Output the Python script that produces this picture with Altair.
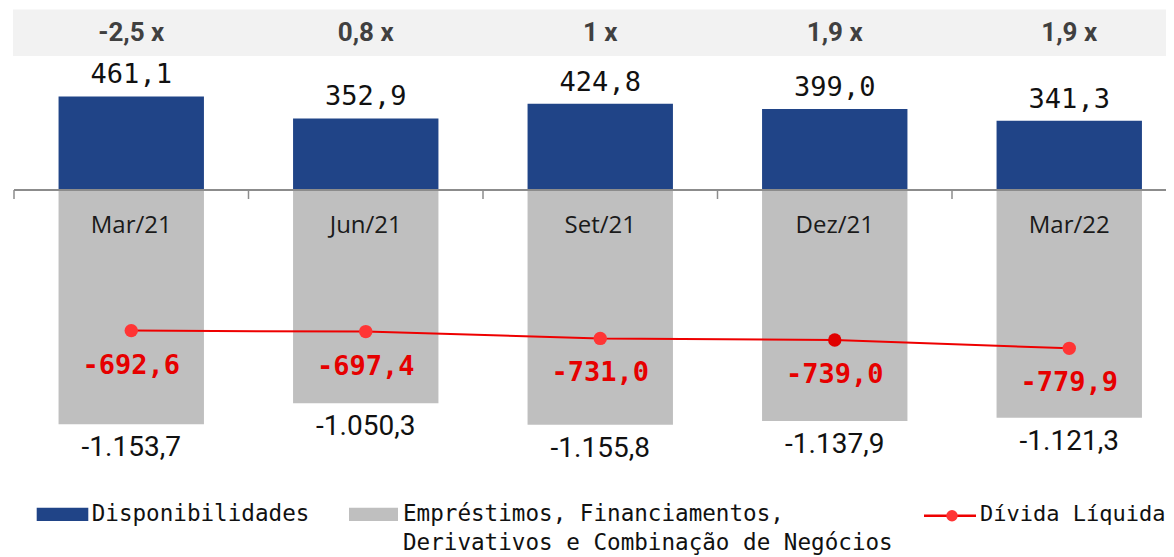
import altair as alt
import pandas as pd

# ---- data ----
categories = ["Mar/21", "Jun/21", "Set/21", "Dez/21", "Mar/22"]
disponibilidades = [461.1, 352.9, 424.8, 399.0, 341.3]
emprestimos = [-1153.7, -1050.3, -1155.8, -1137.9, -1121.3]
divida_liquida = [-692.6, -697.4, -731.0, -739.0, -779.9]
multiplos = ["-2,5 x", "0,8 x", "1 x", "1,9 x", "1,9 x"]
series_names = [
    "Disponibilidades",
    "Empréstimos, Financiamentos,\nDerivativos e Combinação de Negócios",
    "Dívida Líquida",
]


def fmt_br(v):
    s = f"{v:,.1f}"
    return s.replace(",", "X").replace(".", ",").replace("X", ".")


df = pd.DataFrame({
    "cat": categories,
    "disp": disponibilidades,
    "emp": emprestimos,
    "div": divida_liquida,
    "mult": multiplos,
    "zero": [0.0] * len(categories),
    "disp_lbl": [fmt_br(v) for v in disponibilidades],
    "emp_lbl": [fmt_br(v) for v in emprestimos],
    "div_lbl": [fmt_br(v) for v in divida_liquida],
})

W, H = 1152, 549
BLUE = "#204487"
GRAY = "#bfbfbf"
RED = "#ee0000"
MONO = "DejaVu Sans Mono"

# the last category band runs past the right edge, as in the reference
xscale = alt.Scale(domain=categories, range=[0, 1172.5], paddingInner=0, paddingOuter=0)
yscale = alt.Scale(domain=[-1808, 897], nice=False, zero=False)

xenc = alt.X("cat:N", scale=xscale, axis=None, sort=categories)
base = alt.Chart(df)

top_band = alt.Chart(pd.DataFrame({"k": [0]})).mark_rect(color="#f2f2f2").encode(
    x=alt.value(-1), x2=alt.value(W), y=alt.value(1.5), y2=alt.value(48)
)
mult_text = base.mark_text(font="Roboto", fontWeight="bold", fontSize=26,
                           color="#404040", baseline="middle").encode(
    x=xenc, y=alt.value(25), text="mult:N"
)

bars_blue = base.mark_bar(color=BLUE, width=alt.RelativeBandSize(0.62)).encode(
    x=xenc, y=alt.Y("disp:Q", scale=yscale, axis=None), y2="zero:Q"
)
bars_gray = base.mark_bar(color=GRAY, width=alt.RelativeBandSize(0.62)).encode(
    x=xenc, y=alt.Y("emp:Q", scale=yscale, axis=None), y2="zero:Q"
)

axis_line = base.mark_rule(color="#8c8c8c", strokeWidth=2).encode(
    x=alt.value(0), x2=alt.value(W), y=alt.Y("zero:Q", scale=yscale, axis=None)
)
ticks = base.mark_rule(color="#8c8c8c", strokeWidth=1.5).encode(
    x=alt.X("cat:N", scale=xscale, axis=None, sort=categories, bandPosition=0),
    y=alt.value(182), y2=alt.value(191)
)
cat_labels = base.mark_text(font="Open Sans", fontSize=24, color="#1a1a1a",
                            baseline="middle").encode(
    x=xenc, y=alt.value(218), text="cat:N"
)

lbl_blue = base.mark_text(font=MONO, fontSize=27, color="#111111",
                          baseline="middle", dy=-21).encode(
    x=xenc, y=alt.Y("disp:Q", scale=yscale, axis=None), text="disp_lbl:N"
)
lbl_gray = base.mark_text(font="Roboto", fontSize=28, color="#111111",
                          baseline="middle", dy=24).encode(
    x=xenc, y=alt.Y("emp:Q", scale=yscale, axis=None), text="emp_lbl:N"
)

line = base.mark_line(color=RED, strokeWidth=2).encode(
    x=xenc, y=alt.Y("div:Q", scale=yscale, axis=None)
)
points = base.mark_circle(size=180, opacity=1).encode(
    x=xenc, y=alt.Y("div:Q", scale=yscale, axis=None),
    color=alt.condition(alt.datum.cat == "Dez/21", alt.value("#e00000"), alt.value("#ff3535"))
)
lbl_red = base.mark_text(font=MONO, fontSize=27, fontWeight="bold", color="#e60000",
                         baseline="middle", dy=35).encode(
    x=xenc, y=alt.Y("div:Q", scale=yscale, axis=None), text="div_lbl:N"
)

# ---- legend ----
leg1 = alt.Chart(pd.DataFrame({"name": [series_names[0]]}))
leg2 = alt.Chart(pd.DataFrame({"name": [series_names[1]]}))
leg3 = alt.Chart(pd.DataFrame({"name": [series_names[2]]}))
LEG_FS = 22.6

sw_blue = leg1.mark_rect(color=BLUE).encode(
    x=alt.value(22.7), x2=alt.value(74.3), y=alt.value(499.7), y2=alt.value(513)
)
tx_blue = leg1.mark_text(font=MONO, fontSize=LEG_FS, color="#111111", align="left",
                         baseline="alphabetic").encode(
    x=alt.value(77.7), y=alt.value(513), text="name:N"
)
sw_gray = leg2.mark_rect(color=GRAY).encode(
    x=alt.value(335), x2=alt.value(384), y=alt.value(499.7), y2=alt.value(513)
)
tx_gray = leg2.mark_text(font=MONO, fontSize=LEG_FS, color="#111111", align="left",
                         baseline="alphabetic", lineBreak="\n", lineHeight=29).encode(
    x=alt.value(389), y=alt.value(513), text="name:N"
)
sw_line = leg3.mark_rule(color=RED, strokeWidth=2.5).encode(
    x=alt.value(910), x2=alt.value(962), y=alt.value(507.7)
)
sw_dot = leg3.mark_circle(size=130, opacity=1, color="#ff3535").encode(
    x=alt.value(938), y=alt.value(507.7)
)
tx_line = leg3.mark_text(font=MONO, fontSize=22, color="#111111", align="left",
                         baseline="alphabetic").encode(
    x=alt.value(966), y=alt.value(513), text="name:N"
)

chart = alt.layer(
    top_band, mult_text, bars_blue, bars_gray, axis_line, ticks, cat_labels,
    lbl_blue, lbl_gray, line, points, lbl_red,
    sw_blue, tx_blue, sw_gray, tx_gray, sw_line, sw_dot, tx_line,
).properties(
    width=W, height=H,
    autosize=alt.AutoSizeParams(type="none"),
    padding={"left": 6, "top": 0, "right": 0, "bottom": 0},
    background="white",
).configure_view(stroke=None)

chart.save("out.html", embed_options={"renderer": "svg", "actions": False})
